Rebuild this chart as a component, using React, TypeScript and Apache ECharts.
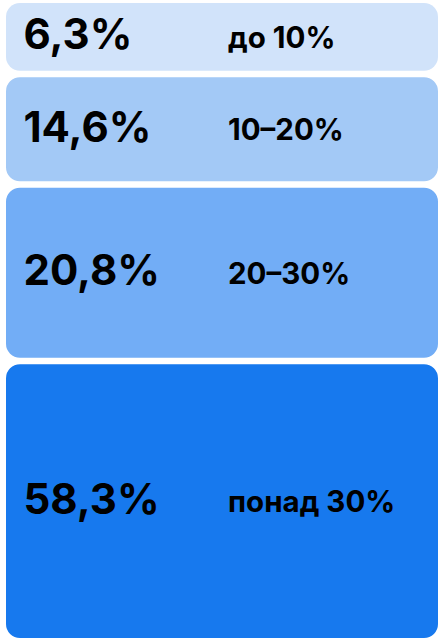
import React, { useEffect, useRef } from "react";
import * as echarts from "echarts";

// ---- data ----
const bandLabels = ["до 10%", "10–20%", "20–30%", "понад 30%"];
const shares = [6.3, 14.6, 20.8, 58.3];

// ---- layout / style ----
const slotSpans = [71, 110.5, 176.5, 277]; // visual slot heights (design, not proportional)
const blockColors = ["#D1E3FA", "#A3C9F6", "#72ADF6", "#1779EE"];
const GAP = 6.5;
const RADIUS = 14;
const FONT = "Inter, 'Noto Sans', sans-serif";

const fmt = (v: number) => v.toFixed(1).replace(".", ",") + "%";

export default function App() {
  const ref = useRef<HTMLDivElement>(null);
  useEffect(() => {
    if (!ref.current) return;
    const chart = echarts.init(ref.current, undefined, { renderer: "svg" });
    const starts: number[] = [];
    let acc = 0;
    slotSpans.forEach((s) => {
      starts.push(acc);
      acc += s;
    });
    const total = acc;
    const last = shares.length - 1;
    chart.setOption({
      animation: false,
      grid: { left: 6, right: 0, top: 3, bottom: 0 },
      xAxis: { type: "value", min: 0, max: 1, show: false },
      yAxis: { type: "value", min: 0, max: total, inverse: true, show: false },
      series: [
        {
          type: "custom",
          data: shares.map((v, i) => [i, v]),
          renderItem: (params: any, api: any) => {
            const i = params.dataIndex;
            const a = api.coord([0, starts[i]]);
            const b = api.coord([1, starts[i] + slotSpans[i]]);
            const y0 = a[1] + (i === 0 ? 0 : GAP / 2);
            const y1 = b[1] - (i === last ? 0 : GAP / 2);
            const cy = (y0 + y1) / 2;
            return {
              type: "group",
              children: [
                {
                  type: "rect",
                  shape: { x: a[0], y: y0, width: b[0] - a[0], height: y1 - y0, r: RADIUS },
                  style: { fill: blockColors[i] },
                },
                {
                  type: "text",
                  x: a[0] + 17.5,
                  y: cy - 3,
                  style: {
                    text: fmt(api.value(1)),
                    fill: "#000",
                    font: `700 42px ${FONT}`,
                    verticalAlign: "middle",
                    align: "left",
                  },
                },
                {
                  type: "text",
                  x: a[0] + 222,
                  y: cy,
                  style: {
                    text: bandLabels[i],
                    fill: "#000",
                    font: `700 29.5px ${FONT}`,
                    verticalAlign: "middle",
                    align: "left",
                  },
                },
              ],
            };
          },
        },
      ],
    });
    return () => chart.dispose();
  }, []);
  return (
    <div
      ref={ref}
      style={{ position: "fixed", left: 0, top: 0, width: 438, height: 638, background: "#fff" }}
    />
  );
}
